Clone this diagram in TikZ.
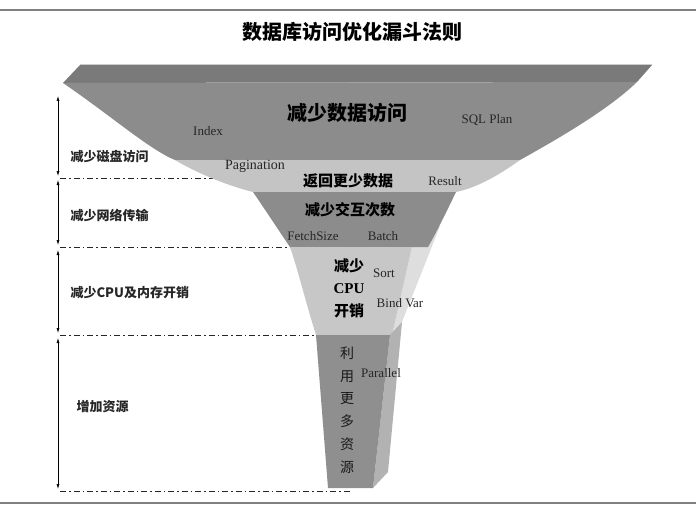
\documentclass[tikz,border=0pt]{standalone}
\usepackage{fontspec}
\setmainfont{Liberation Serif}
\newfontfamily\cjk{Noto Sans CJK SC}
\usetikzlibrary{arrows.meta}

\begin{document}
\begin{tikzpicture}
    [
      x = 1pt, y = -1pt,
      guide/.style = {dash pattern = on 6pt off 3pt on 1.5pt off 3pt, line width = 0.9pt, black!85},
      dimarrow/.style = {{Latex[length=5pt,width=3pt]}-{Latex[length=5pt,width=3pt]}, line width = 0.6pt},
      sidelabel/.style = {anchor = west, font = \cjk\bfseries\fontsize{13}{16}\selectfont, text = black!85},
      stage/.style = {font = \cjk\bfseries\fontsize{15}{18}\selectfont},
      hint/.style = {font = \fontsize{13}{14}\selectfont, text = black!85},
    ]

    \useasboundingbox (0,0) rectangle (696,516);
    \draw[line width = 2pt, black!50] (0,10) -- (696,10);
    \draw[line width = 2pt, black!50] (0,503) -- (696,503);

    \node[font = \cjk\bfseries\fontsize{20}{24}\selectfont] (title) at (352,32) {数据库访问优化漏斗法则};

    \foreach \y in {178,247,335,491}
      \draw[guide] (60,\y) -- (350,\y);

    \fill[black!52] (80,65) -- (652,65) -- (637,82) -- (63,83) -- cycle;
    \draw[black!20, line width = 1pt] (80,65) -- (652,65);
    \fill[black!45] (63,83) .. controls (110,115) and (150,150) .. (175,160)
      -- (520,160) .. controls (565,135) and (610,108) .. (637,82) -- cycle;
    \fill[black!23] (175,160) -- (520,160) .. controls (495,178) and (475,188) .. (456,192)
      -- (253,192) .. controls (225,185) and (195,172) .. (175,160) -- cycle;
    \fill[black!13] (412,247) -- (440,226) -- (402,322) -- (392,335) -- cycle;
    \fill[black!45] (253,192) -- (456,192) .. controls (445,215) and (435,235) .. (428,247)
      -- (290,247) .. controls (275,225) and (262,205) .. (253,192) -- cycle;
    \fill[black!22] (290,247) -- (412,247) -- (392,335) -- (316,335)
      .. controls (305,300) and (298,270) .. (290,247) -- cycle;
    \fill[black!30] (390,335) -- (402,322) -- (388,472) -- (373,488) -- cycle;
    \fill[black!44] (316,335) -- (390,335) -- (373,488) -- (328,488) -- cycle;

    \node[stage, font = \cjk\bfseries\fontsize{20}{24}\selectfont] (access) at (347,113) {减少数据访问};
    \node[hint] (index) at (208,131) {Index};
    \node[hint] (sqlplan) at (487,120) {SQL Plan};
    \node[hint, font = \fontsize{14}{16}\selectfont] (pagination) at (255,166) {Pagination};
    \node[stage] (fewer) at (348,181) {返回更少数据};
    \node[hint] (result) at (445,181) {Result};
    \node[stage] (roundtrip) at (350,210) {减少交互次数};
    \node[hint] (fetchsize) at (313,236) {FetchSize};
    \node[hint] (batch) at (383,236) {Batch};
    \node[stage, align = center, font = \cjk\bfseries\fontsize{15}{22.5}\selectfont] (cpu) at (349,288) {减少\\{\rmfamily CPU}\\开销};
    \node[hint] (sort) at (384,273) {Sort};
    \node[hint] (bindvar) at (400,303) {Bind Var};
    \node[align = center, font = \cjk\fontsize{14}{22.8}\selectfont, text = black!90] (more) at (347,410) {利\\用\\更\\多\\资\\源};
    \node[hint] (parallel) at (381,373) {Parallel};

    \node[sidelabel] (disk) at (67,157) {减少磁盘访问};
    \node[sidelabel] (network) at (67,215) {减少网络传输};
    \node[sidelabel] (memory) at (67,293) {减少CPU及内存开销};
    \node[sidelabel] (resource) at (73,407) {增加资源};

    \foreach \a/\b [count=\i] in {96/176, 180/245, 250/333, 338/489}
      {
        \coordinate (top\i) at (58,\a);
        \coordinate (bot\i) at (58,\b);
        \draw[dimarrow] (top\i) -- (bot\i);
      }

  \end{tikzpicture}
\end{document}
